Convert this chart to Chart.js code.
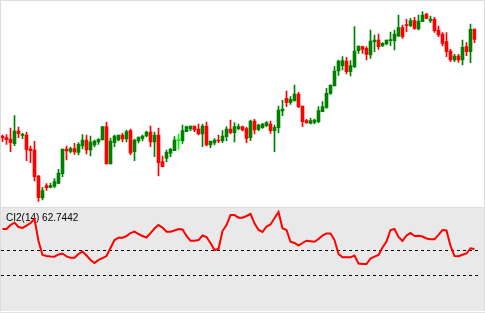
<!DOCTYPE html>
<html>
<head>
<meta charset="utf-8">
<script src="https://cdn.jsdelivr.net/npm/chart.js@4"></script>
<style>
  html, body { margin: 0; padding: 0; background: #fff; }
  #wrap { position: relative; width: 485px; height: 313px; }
  canvas { position: absolute; left: 0; }
</style>
</head>
<body>
<div id="wrap">
  <canvas id="price" width="485" height="208" style="top:0"></canvas>
  <canvas id="ci" width="485" height="105" style="top:208px"></canvas>
</div>
<script>
// candle data (oldest first)
const opens = [114,112.3,111,106.3,119,114.7,115,101,100,74,52,64.3,62.7,63.7,66.7,76.3,101,98.7,101.3,97.7,
  104,110,100,105,108,110,123.3,86,107.3,110,115,111,119.3,98.3,109,111.7,114,118,108,115,
  88.3,91.7,96.7,99.3,109.3,109.3,118.3,121,124,121,116,124,105,107,110,109.3,113.3,121,117.3,121.3,
  123.3,121.3,112.3,129,120.7,122.3,124.3,126,119.3,122.3,139,151.7,147.3,149,156,144,129.3,126.7,127.7,128.3,
  138.3,142.7,156.7,164,179,184.3,189,178.3,183.3,199.3,203.3,201.7,195,208.3,210,204.3,206,209.3,209.3,214,
  222.3,225,224.3,229.3,221,228.3,236,229.3,230.7,220,216,208.3,199,190,194,190,203.3,198.3,221];
const highs = [115,115.3,122,134.3,123,117,118,104,108.7,74.7,62.7,66.3,67,71.3,80.7,101,104,103,106.7,107.3,
  115.3,115,114,110,111.3,123.3,128,112,115,115,116.7,120,121,111,113,115,119,124,118,122,
  94,100,101.7,113.3,116,125,124,124,124,126,126,128,109,111.3,115,119.3,123.3,130,127.3,126,
  124,122.7,130,130.7,126,126.7,128.3,129,125,144,150,159,153.3,165,157.7,144,130.7,131.7,131,143.3,
  148.3,161.7,165,183.3,190,193.3,192.7,189.3,223.3,204,204,203.3,220,215,216,207.3,210,218,220,235,
  225,230.7,231.7,232.7,235,238.3,236.7,234,232.7,224,217.3,217.3,200.7,195.7,195.7,210,207.3,226,221];
const lows = [108.3,105.7,98.3,104.3,112.3,111.3,89.3,87.3,69,48.7,50,59.7,62,62.7,66.3,73.3,90,97,95.7,95,
  101,96,94,103,105.7,110,86,86,103.3,109,108,108,95.3,89.3,107,109,113,103.3,93.3,74,
  83,88.3,93.3,99.3,100.7,106.7,118.3,119.3,118.3,115,103.3,104,102.3,105,107.3,107.3,109,116,108,120,
  119,107.3,109.3,116,119.3,121.7,123.3,116.7,98.3,117.3,134.3,143.3,145.7,149,142.3,123.3,126.7,126,126,127.3,
  138.3,141.7,155.7,164,174.7,180,176,174,182.3,196.7,196.7,190,191.7,198.3,200.7,203.3,205,204.3,200,213.3,
  211.7,218.3,223.3,220.7,220,228.3,231,227.3,217.7,213.3,204,193.3,188.3,188.3,187.7,185,194.3,187.3,207.3];
const closes = [112,110.3,107.3,119,116.3,115.7,100.3,99.3,73.3,52.3,59.3,62.3,64.3,68.3,77,101,99,101.3,98,105.7,
  110,100,108,109,110.7,123.3,86,109,114,115,111,118.3,97,110,113,114,118,108,115,87.3,
  83.3,97.7,100.7,110,110,119.3,123.3,124,120,116,124,105,109,110,109,114,121,117.3,123.3,123.3,
  120,111.7,129,120,125,126,127.3,119.3,122.7,140,141,147.3,150.7,156,143.3,128.3,127.3,129.3,130,139.3,
  143.3,156.7,165,179,189,189.3,178.3,184.3,199,204,200.7,195.7,209,210,203.3,206.7,210,210,216,222.3,
  213.3,224.3,229.3,221.7,229,235,231.7,231,219.3,215,206.7,198.3,190,194,190,202.7,198.3,220.7,210.7];
const highlighted = [44];

// CI2(14) indicator values and its levels
const ciValues = [81.6,81.6,85.4,87.6,83.5,82.6,84.9,87.3,91.1,70.3,57.1,56.1,55.7,55.5,57.6,58.5,55.7,54.5,54.5,58.0,
  60.4,56.6,52.4,49.5,52.4,54.2,56.1,63.7,71.2,73.4,73.4,75.0,77.8,79.1,76.9,75.0,73.6,77.8,82.1,85.4,
  83.0,79.1,79.1,80.2,81.6,81.2,75.0,70.6,70.6,71.2,75.5,74.1,68.4,61.8,62.7,79.7,85.4,94.8,94.8,92.3,
  92.3,93.9,95.8,87.0,80.7,78.8,84.0,85.9,91.7,97.7,82.3,80.7,69.6,68.4,66.0,68.4,70.6,70.1,69.6,72.2,
  75.5,77.4,77.4,71.2,58.0,54.9,54.9,54.9,56.6,49.1,48.6,48.6,53.8,55.5,57.1,64.2,69.8,80.7,81.6,74.1,
  70.3,75.5,77.8,75.0,75.3,74.5,72.7,71.9,71.9,76.0,80.7,80.2,65.6,56.1,55.9,57.3,58.5,63.4,62.7442];
const ciLevels = [61.8, 38.2];
const ciName = "CI2(14)";

const labels = opens.map((_, i) => String(i + 1));
const colors = opens.map((o, i) =>
  highlighted.includes(i) ? "#00ff00" : closes[i] >= o ? "#008000" : "#ff0000");

const common = {
  responsive: false,
  devicePixelRatio: 1,
  animation: false,
  events: [],
  layout: { padding: { left: 0.5, right: 8.5, top: 0, bottom: 0 } },
  plugins: { legend: { display: false }, tooltip: { enabled: false } },
};

const priceFrame = {
  id: "priceFrame",
  afterDraw(chart) {
    const ctx = chart.ctx;
    ctx.save();
    ctx.strokeStyle = "#dcdcdc";
    ctx.lineWidth = 1;
    ctx.beginPath();
    ctx.moveTo(0.5, 208); ctx.lineTo(0.5, 0.5); ctx.lineTo(484.5, 0.5); ctx.lineTo(484.5, 208);
    ctx.moveTo(0, 207.5); ctx.lineTo(485, 207.5);
    ctx.stroke();
    ctx.restore();
  },
};

new Chart(document.getElementById("price"), {
  type: "bar",
  data: {
    labels: labels,
    datasets: [
      {
        data: lows.map((l, i) => [l, highs[i]]),
        backgroundColor: colors,
        barThickness: 1,
        grouped: false,
        borderWidth: 0,
        order: 2,
      },
      {
        data: opens.map((o, i) => [o, closes[i]]),
        backgroundColor: colors,
        barThickness: 3,
        minBarLength: 1,
        grouped: false,
        borderWidth: 0,
        order: 1,
      },
    ],
  },
  options: {
    ...common,
    scales: {
      x: { display: false, offset: true },
      y: { display: false, min: 42, max: 250 },
    },
  },
  plugins: [priceFrame],
});

const ciPanel = {
  id: "ciPanel",
  beforeDraw(chart) {
    const ctx = chart.ctx;
    ctx.save();
    ctx.fillStyle = "#e9e9e9";
    ctx.fillRect(0, 0, 485, 103);
    ctx.fillStyle = "#ffffff";
    ctx.fillRect(0, 103, 485, 1);
    ctx.fillStyle = "#e2e2e2";
    ctx.fillRect(0, 104, 485, 1);
    ctx.strokeStyle = "#dcdcdc";
    ctx.beginPath();
    ctx.moveTo(0.5, 0); ctx.lineTo(0.5, 103);
    ctx.moveTo(484.5, 0); ctx.lineTo(484.5, 103);
    ctx.stroke();
    ctx.restore();
  },
  beforeDatasetsDraw(chart) {
    const ctx = chart.ctx;
    const y = chart.scales.y;
    ctx.save();
    ctx.strokeStyle = "#000";
    ctx.lineWidth = 1;
    ctx.setLineDash([3, 3]);
    ciLevels.forEach((lv) => {
      const py = Math.round(y.getPixelForValue(lv)) + 0.5;
      ctx.beginPath();
      ctx.moveTo(1, py);
      ctx.lineTo(481, py);
      ctx.stroke();
    });
    ctx.setLineDash([]);
    ctx.fillStyle = "#000";
    ctx.font = '10px "Liberation Sans", Arial, sans-serif';
    ctx.textBaseline = "alphabetic";
    ctx.fillText(ciName + " " + ciValues[ciValues.length - 1].toFixed(4), 6, 13);
    ctx.restore();
  },
};

new Chart(document.getElementById("ci"), {
  type: "line",
  data: {
    labels: labels,
    datasets: [
      {
        data: ciValues,
        borderColor: "#ff0000",
        borderWidth: 2,
        pointRadius: 0,
        tension: 0,
        fill: false,
      },
    ],
  },
  options: {
    ...common,
    scales: {
      x: { display: false, offset: true },
      y: { display: false, min: 2.33, max: 101.45 },
    },
  },
  plugins: [ciPanel],
});
</script>
</body>
</html>
